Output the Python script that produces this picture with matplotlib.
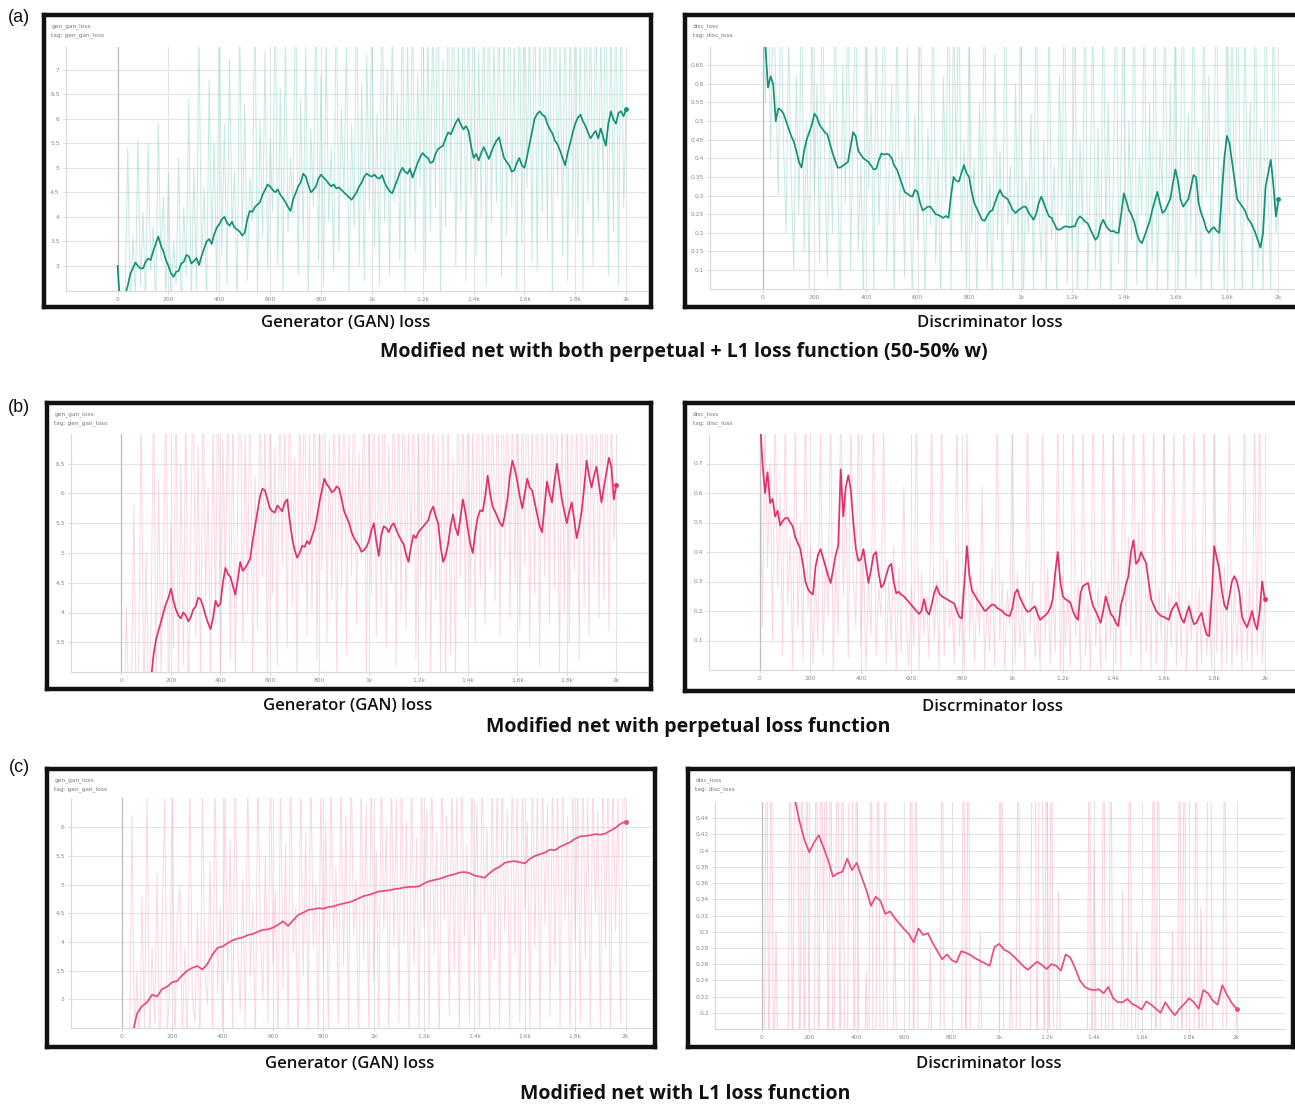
import numpy as np
import matplotlib.pyplot as plt

W, H = 1295, 1105

# ---- data: smoothed curves (a, b every 10 steps; c every 20 steps), 0..2000 ----
a_gen = [3.0, 2.2, 2.3, 2.42, 2.6, 2.84, 2.95, 3.07, 3.0, 2.95,
         2.95, 3.08, 3.15, 3.12, 3.3, 3.45, 3.6, 3.42, 3.3, 3.12,
         3.0, 2.85, 2.78, 2.88, 2.9, 3.05, 3.08, 3.22, 3.2, 3.05,
         3.1, 3.16, 3.02, 3.2, 3.35, 3.5, 3.55, 3.45, 3.65, 3.78,
         3.85, 3.95, 4.0, 3.88, 3.82, 3.9, 3.78, 3.74, 3.7, 3.62,
         3.68, 3.95, 4.12, 4.1, 4.2, 4.25, 4.3, 4.45, 4.55, 4.66,
         4.62, 4.55, 4.5, 4.56, 4.45, 4.38, 4.3, 4.2, 4.12, 4.35,
         4.48, 4.62, 4.7, 4.88, 4.82, 4.65, 4.5, 4.55, 4.62, 4.78,
         4.86, 4.8, 4.75, 4.68, 4.62, 4.66, 4.58, 4.6, 4.55, 4.5,
         4.45, 4.4, 4.35, 4.42, 4.5, 4.62, 4.7, 4.82, 4.88, 4.84,
         4.82, 4.86, 4.8, 4.78, 4.85, 4.7, 4.6, 4.52, 4.48, 4.62,
         4.75, 4.9, 5.0, 4.92, 4.88, 4.98, 4.8, 4.95, 5.1, 5.22,
         5.3, 5.24, 5.2, 5.1, 5.12, 5.28, 5.38, 5.42, 5.45, 5.6,
         5.72, 5.68, 5.8, 5.92, 6.0, 5.88, 5.78, 5.85, 5.75, 5.45,
         5.2, 5.28, 5.15, 5.3, 5.42, 5.3, 5.18, 5.32, 5.45, 5.55,
         5.62, 5.4, 5.2, 5.12, 5.05, 4.92, 4.95, 5.1, 5.2, 5.05,
         5.0, 5.22, 5.48, 5.75, 6.0, 6.1, 6.15, 6.08, 6.05, 5.9,
         5.78, 5.7, 5.55, 5.48, 5.35, 5.2, 5.05, 5.3, 5.5, 5.72,
         5.9, 6.02, 6.08, 5.95, 5.85, 5.72, 5.6, 5.68, 5.75, 5.6,
         5.8, 5.62, 5.45, 5.9, 6.15, 5.98, 5.9, 6.12, 6.15, 6.05,
         6.2]
a_disc = [0.75, 0.7, 0.59, 0.62, 0.6, 0.5, 0.534, 0.53, 0.52, 0.5,
          0.48, 0.46, 0.445, 0.42, 0.39, 0.375, 0.42, 0.45, 0.47, 0.49,
          0.52, 0.51, 0.49, 0.48, 0.47, 0.465, 0.44, 0.415, 0.395, 0.375,
          0.375, 0.38, 0.385, 0.39, 0.43, 0.47, 0.46, 0.42, 0.41, 0.4,
          0.395, 0.39, 0.38, 0.37, 0.372, 0.395, 0.413, 0.41, 0.412, 0.41,
          0.4, 0.38, 0.37, 0.35, 0.33, 0.31, 0.305, 0.3, 0.297, 0.315,
          0.31, 0.28, 0.26, 0.265, 0.27, 0.27, 0.26, 0.25, 0.248, 0.244,
          0.24, 0.245, 0.24, 0.3, 0.35, 0.34, 0.337, 0.36, 0.382, 0.36,
          0.35, 0.31, 0.28, 0.265, 0.25, 0.235, 0.232, 0.245, 0.257, 0.26,
          0.28, 0.3, 0.315, 0.3, 0.295, 0.29, 0.275, 0.26, 0.253, 0.26,
          0.265, 0.27, 0.27, 0.255, 0.245, 0.235, 0.25, 0.28, 0.297, 0.28,
          0.26, 0.244, 0.24, 0.225, 0.21, 0.208, 0.212, 0.217, 0.217, 0.215,
          0.217, 0.217, 0.235, 0.244, 0.238, 0.23, 0.225, 0.21, 0.195, 0.181,
          0.19, 0.22, 0.235, 0.22, 0.21, 0.204, 0.205, 0.2, 0.2, 0.25,
          0.306, 0.285, 0.26, 0.248, 0.23, 0.2, 0.18, 0.172, 0.19, 0.21,
          0.23, 0.26, 0.285, 0.31, 0.28, 0.253, 0.26, 0.275, 0.29, 0.33,
          0.37, 0.34, 0.29, 0.27, 0.28, 0.29, 0.32, 0.355, 0.35, 0.28,
          0.253, 0.235, 0.21, 0.2, 0.21, 0.215, 0.205, 0.2, 0.3, 0.4,
          0.46, 0.44, 0.39, 0.34, 0.29, 0.28, 0.27, 0.26, 0.24, 0.23,
          0.217, 0.2, 0.18, 0.16, 0.2, 0.324, 0.36, 0.396, 0.33, 0.244,
          0.29]
b_gen = [1.6, 1.75, 1.9, 2.0, 2.1, 2.2, 2.3, 2.4, 2.5, 2.6,
         2.7, 2.8, 2.9, 3.3, 3.55, 3.7, 3.85, 4.0, 4.15, 4.25,
         4.4, 4.2, 4.05, 3.95, 3.9, 4.0, 3.95, 3.85, 3.92, 4.05,
         4.1, 4.25, 4.22, 4.1, 3.95, 3.82, 3.72, 3.9, 4.2, 4.1,
         4.15, 4.5, 4.75, 4.65, 4.6, 4.45, 4.3, 4.55, 4.85, 4.7,
         4.75, 4.82, 4.9, 5.2, 5.45, 5.7, 5.95, 6.08, 6.05, 5.9,
         5.75, 5.7, 5.68, 5.8, 5.75, 5.7, 5.85, 5.9, 5.55, 5.25,
         5.05, 4.92, 5.0, 5.12, 5.1, 5.2, 5.15, 5.28, 5.4, 5.6,
         5.85, 6.05, 6.25, 6.15, 6.1, 6.02, 6.05, 6.12, 6.08, 5.9,
         5.7, 5.6, 5.5, 5.35, 5.25, 5.18, 5.12, 5.02, 5.05, 5.1,
         5.2, 5.38, 5.5, 5.2, 4.95, 5.3, 5.45, 5.42, 5.35, 5.45,
         5.5, 5.4, 5.3, 5.22, 5.15, 4.98, 4.85, 5.1, 5.3, 5.25,
         5.35, 5.4, 5.45, 5.5, 5.55, 5.7, 5.78, 5.62, 5.5, 5.1,
         4.85, 4.95, 5.15, 5.45, 5.65, 5.42, 5.3, 5.6, 5.9, 5.68,
         5.4, 5.15, 5.0, 5.35, 5.6, 5.72, 5.7, 5.95, 6.3, 6.0,
         5.78, 5.7, 5.6, 5.5, 5.45, 5.65, 5.9, 6.3, 6.55, 6.4,
         6.2, 5.95, 5.75, 6.0, 6.25, 6.1, 6.05, 5.85, 5.65, 5.45,
         5.35, 5.8, 6.2, 6.0, 5.85, 6.2, 6.5, 6.2, 5.9, 5.7,
         5.5, 5.7, 5.85, 5.55, 5.25, 5.45, 5.7, 6.1, 6.55, 6.3,
         6.1, 6.3, 6.45, 6.15, 5.85, 6.1, 6.35, 6.6, 6.45, 5.9,
         6.15]
b_disc = [0.85, 0.7, 0.6, 0.67, 0.566, 0.58, 0.52, 0.54, 0.49, 0.505,
          0.515, 0.515, 0.5, 0.487, 0.45, 0.43, 0.41, 0.36, 0.3, 0.275,
          0.262, 0.256, 0.35, 0.39, 0.41, 0.38, 0.35, 0.32, 0.295, 0.34,
          0.39, 0.42, 0.68, 0.52, 0.62, 0.66, 0.61, 0.5, 0.41, 0.37,
          0.375, 0.41, 0.35, 0.295, 0.34, 0.39, 0.4, 0.33, 0.28, 0.29,
          0.32, 0.35, 0.36, 0.3, 0.26, 0.265, 0.255, 0.25, 0.24, 0.23,
          0.22, 0.21, 0.2, 0.19, 0.2, 0.24, 0.2, 0.188, 0.22, 0.26,
          0.284, 0.26, 0.25, 0.245, 0.24, 0.235, 0.23, 0.225, 0.2, 0.18,
          0.175, 0.3, 0.42, 0.32, 0.27, 0.255, 0.24, 0.228, 0.215, 0.2,
          0.205, 0.215, 0.222, 0.22, 0.21, 0.205, 0.2, 0.19, 0.185, 0.183,
          0.21, 0.26, 0.273, 0.245, 0.228, 0.21, 0.197, 0.2, 0.21, 0.216,
          0.19, 0.17, 0.178, 0.185, 0.194, 0.21, 0.24, 0.33, 0.4, 0.3,
          0.25, 0.24, 0.235, 0.228, 0.2, 0.18, 0.17, 0.26, 0.285, 0.29,
          0.295, 0.25, 0.216, 0.2, 0.18, 0.16, 0.2, 0.25, 0.22, 0.19,
          0.18, 0.16, 0.149, 0.22, 0.25, 0.29, 0.318, 0.4, 0.44, 0.36,
          0.37, 0.4, 0.38, 0.363, 0.3, 0.24, 0.22, 0.2, 0.19, 0.183,
          0.18, 0.175, 0.17, 0.2, 0.215, 0.228, 0.2, 0.175, 0.16, 0.19,
          0.216, 0.18, 0.155, 0.16, 0.18, 0.194, 0.15, 0.12, 0.115, 0.25,
          0.42, 0.38, 0.34, 0.27, 0.22, 0.205, 0.25, 0.3, 0.318, 0.3,
          0.26, 0.18, 0.16, 0.145, 0.17, 0.2, 0.16, 0.137, 0.2, 0.3,
          0.24]
c_gen = [1.8, 2.1, 2.35, 2.75, 2.88, 2.95, 3.08, 3.05, 3.18, 3.22, 3.3, 3.32, 3.42, 3.5, 3.55, 3.58,
         3.52, 3.62, 3.78, 3.9, 3.92, 3.98, 4.03, 4.06, 4.08, 4.12, 4.14, 4.18, 4.21, 4.22, 4.25, 4.3,
         4.36, 4.28, 4.38, 4.47, 4.51, 4.56, 4.57, 4.59, 4.58, 4.61, 4.62, 4.65, 4.67, 4.69, 4.72, 4.76,
         4.8, 4.82, 4.85, 4.88, 4.89, 4.9, 4.92, 4.93, 4.95, 4.96, 4.96, 4.97, 5.02, 5.06, 5.08, 5.1,
         5.13, 5.16, 5.18, 5.21, 5.22, 5.2, 5.16, 5.14, 5.12, 5.2, 5.27, 5.31, 5.38, 5.4, 5.41, 5.39,
         5.37, 5.45, 5.5, 5.53, 5.56, 5.61, 5.6, 5.66, 5.7, 5.74, 5.8, 5.84, 5.85, 5.86, 5.88, 5.87, 5.89,
         5.94, 5.99, 6.06, 6.1]
c_disc = [0.55, 0.53, 0.52, 0.51, 0.5, 0.49, 0.475, 0.462, 0.435, 0.413, 0.398, 0.41, 0.419, 0.404,
          0.388, 0.368, 0.372, 0.374, 0.39, 0.376, 0.385, 0.368, 0.352, 0.332, 0.343, 0.338, 0.322, 0.325,
          0.317, 0.31, 0.303, 0.297, 0.287, 0.304, 0.296, 0.298, 0.286, 0.276, 0.266, 0.272, 0.265, 0.262,
          0.276, 0.274, 0.271, 0.267, 0.264, 0.261, 0.258, 0.281, 0.285, 0.278, 0.275, 0.27, 0.264, 0.258,
          0.253, 0.258, 0.263, 0.259, 0.254, 0.26, 0.258, 0.252, 0.272, 0.268, 0.255, 0.24, 0.232, 0.229,
          0.228, 0.229, 0.224, 0.232, 0.218, 0.213, 0.213, 0.217, 0.211, 0.208, 0.204, 0.214, 0.21, 0.205,
          0.2, 0.213, 0.204, 0.197, 0.205, 0.211, 0.218, 0.213, 0.205, 0.228, 0.224, 0.215, 0.21, 0.234,
          0.222, 0.212, 0.205]

# ---- data: raw (unsmoothed) values, every 10 steps from 0 to 2000 ----
a_gen_raw = [3.0, 1.2, 2.0, 2.4, 5.4, 2.1, 3.6, 2.3, 5.6, 2.6,
             4.1, 2.2, 5.5, 2.9, 3.8, 2.0, 5.9, 3.1, 4.4, 2.3,
             4.9, 2.1, 3.5, 2.6, 5.2, 2.0, 4.2, 2.8, 6.4, 2.2,
             5.0, 2.5, 7.9, 3.0, 4.6, 2.1, 6.8, 3.4, 5.5, 2.4,
             8.5, 3.2, 5.9, 2.6, 7.2, 3.8, 4.9, 2.2, 8.1, 3.5,
             6.3, 2.7, 4.8, 3.9, 8.8, 2.4, 6.0, 3.6, 7.4, 2.9,
             5.6, 4.1, 8.6, 3.0, 6.6, 2.5, 7.8, 3.7, 5.2, 4.0,
             9.0, 2.8, 6.4, 3.5, 7.5, 2.3, 5.8, 4.2, 8.7, 3.1,
             6.9, 2.6, 7.7, 3.9, 5.4, 2.9, 8.9, 3.3, 6.2, 4.4,
             7.6, 2.4, 5.9, 3.8, 9.1, 3.0, 6.7, 2.7, 7.3, 4.1,
             8.4, 3.4, 6.1, 2.6, 9.3, 3.9, 7.0, 2.8, 8.0, 4.3,
             6.5, 3.1, 9.2, 2.5, 7.6, 4.0, 8.8, 3.3, 6.9, 4.6,
             9.4, 2.9, 7.9, 3.7, 8.5, 4.2, 9.6, 2.4, 7.2, 3.8,
             8.9, 4.5, 9.5, 3.0, 7.8, 4.1, 9.0, 2.7, 8.3, 4.4,
             9.7, 3.2, 7.4, 4.0, 8.8, 2.6, 9.3, 3.9, 7.7, 4.3,
             9.0, 2.8, 8.2, 3.6, 9.6, 4.2, 7.5, 2.5, 8.9, 3.4,
             9.8, 4.6, 8.1, 3.1, 9.4, 2.9, 7.9, 4.1, 9.2, 3.5,
             8.6, 2.3, 9.7, 4.4, 7.6, 3.2, 9.1, 2.7, 8.4, 4.0,
             9.5, 3.6, 8.0, 2.5, 9.9, 4.3, 8.7, 3.0, 9.2, 3.9,
             7.8, 4.5, 9.6, 2.8, 8.5, 3.7, 9.3, 2.6, 8.9, 4.2,
             6.2]
a_disc_raw = [0.90, 0.55, 0.95, 0.40, 0.85, 0.60, 0.30, 0.88, 0.45, 0.20,
              0.75, 0.35, 0.10, 0.62, 0.25, 0.90, 0.15, 0.50, 0.05, 0.80,
              0.30, 0.60, 0.12, 0.95, 0.40, 0.08, 0.55, 0.20, 0.88, 0.35,
              0.02, 0.65, 0.28, 0.92, 0.10, 0.48, 0.85, 0.15, 0.40, 0.00,
              0.90, 0.32, 0.55, 0.05, 0.80, 0.22, 0.45, 0.95, 0.10, 0.38,
              0.60, 0.00, 0.85, 0.25, 0.42, 0.08, 0.70, 0.30, 0.03, 0.52,
              0.18, 0.88, 0.35, 0.02, 0.48, 0.22, 0.90, 0.12, 0.40, 0.00,
              0.62, 0.28, 0.95, 0.05, 0.85, 0.35, 0.92, 0.15, 0.45, 0.02,
              0.78, 0.20, 0.40, 0.00, 0.55, 0.25, 0.90, 0.10, 0.35, 0.00,
              0.68, 0.18, 0.42, 0.05, 0.95, 0.22, 0.38, 0.02, 0.60, 0.15,
              0.88, 0.00, 0.35, 0.20, 0.52, 0.04, 0.90, 0.28, 0.12, 0.45,
              0.00, 0.85, 0.18, 0.38, 0.02, 0.62, 0.25, 0.95, 0.06, 0.40,
              0.15, 0.88, 0.00, 0.45, 0.22, 0.92, 0.05, 0.35, 0.80, 0.10,
              0.48, 0.00, 0.90, 0.20, 0.55, 0.02, 0.36, 0.95, 0.12, 0.42,
              0.85, 0.00, 0.50, 0.18, 0.92, 0.06, 0.40, 0.25, 0.88, 0.00,
              0.55, 0.12, 0.95, 0.02, 0.45, 0.30, 0.90, 0.00, 0.60, 0.15,
              0.88, 0.04, 0.42, 0.95, 0.00, 0.52, 0.20, 0.90, 0.08, 0.48,
              0.00, 0.85, 0.30, 0.62, 0.02, 0.45, 0.92, 0.10, 0.38, 0.00,
              0.95, 0.25, 0.88, 0.05, 0.90, 0.40, 0.00, 0.85, 0.22, 0.55,
              0.02, 0.92, 0.10, 0.48, 0.00, 0.95, 0.30, 0.05, 0.88, 0.20,
              0.29]
b_gen_raw = [2.0, 1.8, 4.1, 2.2, 2.5, 5.8, 2.1, 3.3, 7.5, 2.4,
             5.0, 2.1, 3.9, 7.8, 2.6, 6.2, 3.0, 4.8, 7.9, 2.3,
             5.5, 3.4, 8.0, 2.8, 6.5, 3.1, 7.6, 2.5, 5.2, 8.2,
             3.6, 6.8, 2.7, 8.0, 4.2, 6.1, 2.9, 7.2, 3.8, 8.5,
             2.6, 6.9, 4.4, 8.1, 3.2, 7.5, 2.8, 5.9, 8.3, 3.5,
             7.0, 4.0, 8.4, 2.9, 6.3, 3.7, 8.0, 4.6, 7.3, 2.7,
             8.6, 4.3, 6.8, 3.1, 8.2, 4.8, 7.4, 3.4, 8.8, 4.1,
             6.6, 2.8, 7.9, 4.5, 8.5, 3.6, 7.1, 4.0, 8.3, 3.2,
             7.7, 4.7, 8.9, 3.5, 6.9, 4.2, 8.1, 2.9, 7.6, 4.4,
             8.4, 3.3, 7.0, 4.6, 8.7, 3.8, 6.7, 4.9, 8.2, 3.0,
             7.5, 4.3, 8.6, 3.6, 7.2, 4.1, 8.9, 3.4, 6.8, 4.5,
             8.3, 3.1, 7.8, 4.0, 8.5, 3.7, 7.3, 4.8, 8.0, 3.2,
             7.4, 4.4, 8.7, 3.5, 7.9, 2.8, 8.2, 4.2, 7.0, 3.0,
             8.8, 2.7, 7.5, 3.3, 6.6, 2.9, 8.4, 4.6, 7.8, 3.9,
             8.1, 4.1, 7.3, 3.5, 8.9, 4.4, 7.6, 3.8, 8.5, 4.7,
             7.9, 4.2, 8.8, 3.6, 9.0, 4.9, 8.3, 3.9, 7.7, 4.5,
             8.6, 3.7, 8.0, 4.8, 9.1, 3.4, 7.6, 4.3, 8.7, 3.1,
             8.2, 4.6, 7.4, 3.8, 8.9, 4.4, 8.1, 2.9, 7.8, 4.0,
             9.0, 3.5, 8.4, 4.7, 7.6, 3.2, 8.8, 4.1, 8.0, 3.6,
             8.6, 4.5, 7.9, 3.9, 9.2, 4.2, 8.3, 3.7, 7.5, 5.2,
             6.2]
b_disc_raw = [0.90, 0.15, 0.85, 0.35, 0.70, 0.10, 0.92, 0.28, 0.60, 0.05,
              0.88, 0.22, 0.45, 0.00, 0.90, 0.14, 0.50, 0.03, 0.92, 0.20,
              0.42, 0.02, 0.30, 0.10, 0.85, 0.05, 0.38, 0.18, 0.90, 0.00,
              0.35, 0.12, 0.95, 0.25, 0.60, 0.04, 0.88, 0.30, 0.15, 0.92,
              0.08, 0.40, 0.00, 0.32, 0.12, 0.90, 0.05, 0.28, 0.18, 0.85,
              0.02, 0.30, 0.10, 0.42, 0.00, 0.35, 0.06, 0.62, 0.15, 0.01,
              0.28, 0.08, 0.90, 0.00, 0.33, 0.12, 0.25, 0.04, 0.88, 0.10,
              0.30, 0.00, 0.95, 0.05, 0.38, 0.14, 0.22, 0.02, 0.90, 0.08,
              0.26, 0.00, 0.85, 0.10, 0.32, 0.03, 0.28, 0.12, 0.62, 0.00,
              0.24, 0.06, 0.35, 0.01, 0.92, 0.10, 0.30, 0.00, 0.27, 0.15,
              0.88, 0.02, 0.33, 0.08, 0.25, 0.00, 0.90, 0.12, 0.30, 0.04,
              0.22, 0.00, 0.85, 0.10, 0.35, 0.02, 0.28, 0.06, 0.92, 0.00,
              0.32, 0.08, 0.26, 0.01, 0.90, 0.12, 0.30, 0.00, 0.85, 0.05,
              0.24, 0.00, 0.95, 0.08, 0.28, 0.00, 0.92, 0.03, 0.30, 0.10,
              0.85, 0.02, 0.40, 0.00, 0.90, 0.15, 0.45, 0.05, 0.95, 0.10,
              0.50, 0.00, 0.92, 0.06, 0.30, 0.00, 0.88, 0.02, 0.28, 0.10,
              0.90, 0.00, 0.26, 0.08, 0.85, 0.01, 0.30, 0.04, 0.92, 0.00,
              0.24, 0.10, 0.88, 0.00, 0.28, 0.02, 0.95, 0.05, 0.22, 0.00,
              0.92, 0.06, 0.40, 0.00, 0.35, 0.02, 0.90, 0.00, 0.30, 0.05,
              0.25, 0.00, 0.95, 0.03, 0.30, 0.00, 0.88, 0.05, 0.92, 0.02,
              0.24]
c_gen_raw = [1.5, 1.2, 2.0, 1.8, 6.2, 2.2, 3.5, 2.0, 4.8, 2.4,
             6.6, 2.1, 3.9, 2.6, 5.2, 1.9, 4.3, 6.5, 2.4, 3.2,
             6.8, 2.1, 4.4, 5.0, 2.3, 3.9, 2.0, 6.9, 3.0, 2.6,
             4.5, 2.1, 6.7, 3.4, 2.9, 5.4, 2.2, 7.0, 3.1, 4.6,
             2.4, 6.8, 3.3, 5.8, 2.3, 7.1, 3.9, 2.8, 5.1, 2.5,
             6.9, 3.4, 4.7, 2.2, 7.0, 4.2, 3.0, 5.5, 2.6, 7.2,
             3.6, 4.9, 2.3, 6.9, 3.2, 5.7, 2.4, 7.1, 3.8, 4.6,
             2.1, 7.0, 3.4, 5.9, 2.5, 7.2, 3.9, 5.0, 2.3, 6.8,
             3.5, 6.1, 2.2, 7.1, 4.0, 5.3, 2.6, 7.0, 3.6, 6.2,
             2.4, 7.3, 4.1, 5.1, 2.2, 7.0, 3.7, 6.4, 2.5, 7.2,
             3.3, 5.6, 2.3, 7.1, 4.2, 6.0, 2.4, 7.0, 3.9, 6.5,
             2.6, 7.2, 4.0, 6.1, 2.2, 7.1, 3.6, 5.8, 2.5, 7.0,
             4.3, 6.3, 2.4, 7.2, 3.8, 5.9, 2.1, 7.1, 4.4, 6.2,
             2.7, 7.0, 3.5, 6.6, 2.3, 7.3, 4.1, 5.7, 2.6, 7.1,
             3.9, 6.4, 2.2, 7.2, 4.5, 6.0, 2.4, 7.0, 3.7, 6.8,
             2.5, 7.1, 4.2, 6.3, 2.3, 7.2, 3.8, 6.6, 2.6, 7.0,
             4.6, 6.1, 2.4, 7.3, 3.9, 6.7, 2.2, 7.1, 4.3, 6.4,
             2.7, 7.0, 3.6, 6.9, 2.5, 7.2, 4.4, 6.2, 2.3, 7.1,
             4.0, 6.8, 2.6, 7.3, 3.7, 6.5, 2.4, 7.0, 4.5, 6.3,
             2.5, 7.2, 3.9, 6.9, 2.3, 7.1, 4.2, 6.6, 2.6, 7.0,
             6.1]
c_disc_raw = [0.10, 0.10, 0.60, 0.10, 0.60, 0.10, 0.30, 0.10, 0.10, 0.10,
              0.10, 0.10, 0.60, 0.10, 0.60, 0.60, 0.10, 0.60, 0.10, 0.60,
              0.10, 0.10, 0.10, 0.60, 0.10, 0.60, 0.30, 0.60, 0.10, 0.60,
              0.10, 0.30, 0.60, 0.10, 0.60, 0.10, 0.10, 0.60, 0.60, 0.10,
              0.60, 0.10, 0.10, 0.10, 0.25, 0.10, 0.60, 0.10, 0.10, 0.60,
              0.10, 0.10, 0.60, 0.10, 0.10, 0.10, 0.32, 0.10, 0.10, 0.10,
              0.10, 0.10, 0.10, 0.60, 0.10, 0.60, 0.10, 0.10, 0.10, 0.10,
              0.10, 0.28, 0.10, 0.10, 0.10, 0.10, 0.60, 0.10, 0.10, 0.10,
              0.10, 0.10, 0.10, 0.10, 0.10, 0.60, 0.10, 0.60, 0.10, 0.10,
              0.10, 0.10, 0.30, 0.10, 0.10, 0.10, 0.10, 0.10, 0.10, 0.10,
              0.10, 0.60, 0.10, 0.10, 0.10, 0.27, 0.10, 0.10, 0.60, 0.10,
              0.10, 0.10, 0.10, 0.10, 0.60, 0.60, 0.10, 0.60, 0.60, 0.10,
              0.60, 0.10, 0.60, 0.10, 0.10, 0.35, 0.10, 0.10, 0.10, 0.10,
              0.10, 0.10, 0.10, 0.10, 0.10, 0.10, 0.10, 0.10, 0.60, 0.10,
              0.40, 0.10, 0.10, 0.10, 0.60, 0.10, 0.10, 0.60, 0.10, 0.10,
              0.10, 0.10, 0.35, 0.10, 0.10, 0.60, 0.10, 0.10, 0.30, 0.10,
              0.10, 0.10, 0.10, 0.10, 0.10, 0.60, 0.10, 0.60, 0.10, 0.10,
              0.10, 0.10, 0.10, 0.30, 0.10, 0.10, 0.60, 0.10, 0.60, 0.10,
              0.10, 0.10, 0.10, 0.60, 0.10, 0.33, 0.10, 0.10, 0.60, 0.60,
              0.10, 0.10, 0.10, 0.10, 0.10, 0.60, 0.10, 0.10, 0.10, 0.10,
              0.20]

x_ticks = [0, 200, 400, 600, 800, 1000, 1200, 1400, 1600, 1800, 2000]
x_labels = ['0', '200', '400', '600', '800', '1k', '1.2k', '1.4k', '1.6k', '1.8k', '2k']

a_gen_yt = [3, 3.5, 4, 4.5, 5, 5.5, 6, 6.5, 7]
a_disc_yt = [0.1, 0.15, 0.2, 0.25, 0.3, 0.35, 0.4, 0.45, 0.5, 0.55, 0.6, 0.65]
b_gen_yt = [3.5, 4, 4.5, 5, 5.5, 6, 6.5]
b_disc_yt = [0.1, 0.2, 0.3, 0.4, 0.5, 0.6, 0.7]
c_gen_yt = [3, 3.5, 4, 4.5, 5, 5.5, 6]
c_disc_yt = [0.2, 0.22, 0.24, 0.26, 0.28, 0.3, 0.32, 0.34, 0.36, 0.38, 0.4, 0.42, 0.44]

TEAL, TEAL_RAW = '#13917b', '#8dd3c5'
PINK, PINK_RAW = '#e2306c', '#f6afc7'
PINK2 = '#ea4c82'

fig = plt.figure(figsize=(W / 100, H / 100), dpi=100)


def box(x0, y0, x1, y1):
    return [x0 / W, 1 - y1 / H, (x1 - x0) / W, (y1 - y0) / H]


def panel(frame, grid, xlim, ylim, yticks, smooth, raw, col, rawcol, tag, raw_alpha=0.5):
    fa = fig.add_axes(box(*frame))
    fa.set_xticks([])
    fa.set_yticks([])
    for sp in fa.spines.values():
        sp.set_linewidth(3.2)
        sp.set_color('#111111')
    fh = frame[3] - frame[1]
    fa.text(0.012, 1 - 11 / fh, tag, transform=fa.transAxes,
            fontsize=4.2, color='#777777', va='center')
    fa.text(0.012, 1 - 20 / fh, 'tag: ' + tag, transform=fa.transAxes,
            fontsize=4.2, color='#777777', va='center')

    ax = fig.add_axes(box(*grid))
    ax.set_xlim(*xlim)
    ax.set_ylim(*ylim)
    for sp in ['top', 'right']:
        ax.spines[sp].set_visible(False)
    for sp in ['left', 'bottom']:
        ax.spines[sp].set_color('#d8d8d8')
        ax.spines[sp].set_linewidth(0.8)
    ax.set_xticks(x_ticks)
    ax.set_xticklabels(x_labels)
    ax.set_yticks(yticks)
    ax.set_yticklabels(['%g' % v for v in yticks])
    ax.tick_params(labelsize=4.3, labelcolor='#8a8a8a', color='#cccccc',
                   length=2.5, width=0.6, pad=2)
    ax.grid(True, color='#e4e4e4', lw=0.8)
    ax.set_axisbelow(True)
    ax.axvline(0, color='#bdbdbd', lw=0.9, zorder=1)

    xr = np.linspace(0, 2000, len(raw))
    ax.plot(xr, raw, color=rawcol, lw=0.7, alpha=raw_alpha, zorder=2)
    xs = np.linspace(0, 2000, len(smooth))
    ax.plot(xs, smooth, color=col, lw=1.25, zorder=3)
    ax.plot(xs[-1:], smooth[-1:], 'o', color=col, ms=2.5, zorder=4)


panel((44, 15, 651, 307), (66, 47, 647, 291), (-203, 2082), (2.49, 7.46), a_gen_yt,
      a_gen, a_gen_raw, TEAL, TEAL_RAW, 'gen_gan_loss')
panel((685, 15, 1310, 307), (710, 47, 1295, 289), (-205, 2064), (0.049, 0.699), a_disc_yt,
      a_disc, a_disc_raw, TEAL, TEAL_RAW, 'disc_loss')
panel((47, 403, 651, 689), (71, 434, 647, 672), (-204, 2124), (3.0, 7.0), b_gen_yt,
      b_gen, b_gen_raw, PINK, PINK_RAW, 'gen_gan_loss')
panel((685, 403, 1310, 691), (709, 434, 1295, 670), (-202, 2120), (0.0, 0.8), b_disc_yt,
      b_disc, b_disc_raw, PINK, PINK_RAW, 'disc_loss')
panel((47, 769, 655, 1047), (71, 798, 651, 1028), (-202, 2101), (2.5, 6.51), c_gen_yt,
      c_gen, c_gen_raw, PINK2, PINK_RAW, 'gen_gan_loss')
panel((688, 769, 1293, 1047), (715, 802, 1285, 1029), (-197, 2204), (0.18, 0.46), c_disc_yt,
      c_disc, c_disc_raw, PINK2, PINK_RAW, 'disc_loss', raw_alpha=0.6)


def ftext(x, y, s, **kw):
    fig.text(x / W, 1 - y / H, s, ha='center', va='center', **kw)


cap = dict(fontsize=12, fontweight='semibold', family='Open Sans', color='#111111')
ttl = dict(fontsize=14, fontweight='bold', family='Open Sans', color='#111111')
lab = dict(fontsize=13, family='Liberation Sans', color='#111111')

ftext(19, 18, '(a)', **lab)
ftext(19, 408, '(b)', **lab)
ftext(19, 767, '(c)', **lab)

ftext(346, 323, 'Generator (GAN) loss', **cap)
ftext(990, 323, 'Discriminator loss', **cap)
ftext(684, 352, 'Modified net with both perpetual + L1 loss function (50-50% w)', **ttl)

ftext(348, 706, 'Generator (GAN) loss', **cap)
ftext(992, 707, 'Discrminator loss', **cap)
ftext(688, 727, 'Modified net with perpetual loss function', **ttl)

ftext(350, 1064, 'Generator (GAN) loss', **cap)
ftext(989, 1064, 'Discriminator loss', **cap)
ftext(685, 1094, 'Modified net with L1 loss function', **ttl)

fig.savefig('out.png', dpi=100)
